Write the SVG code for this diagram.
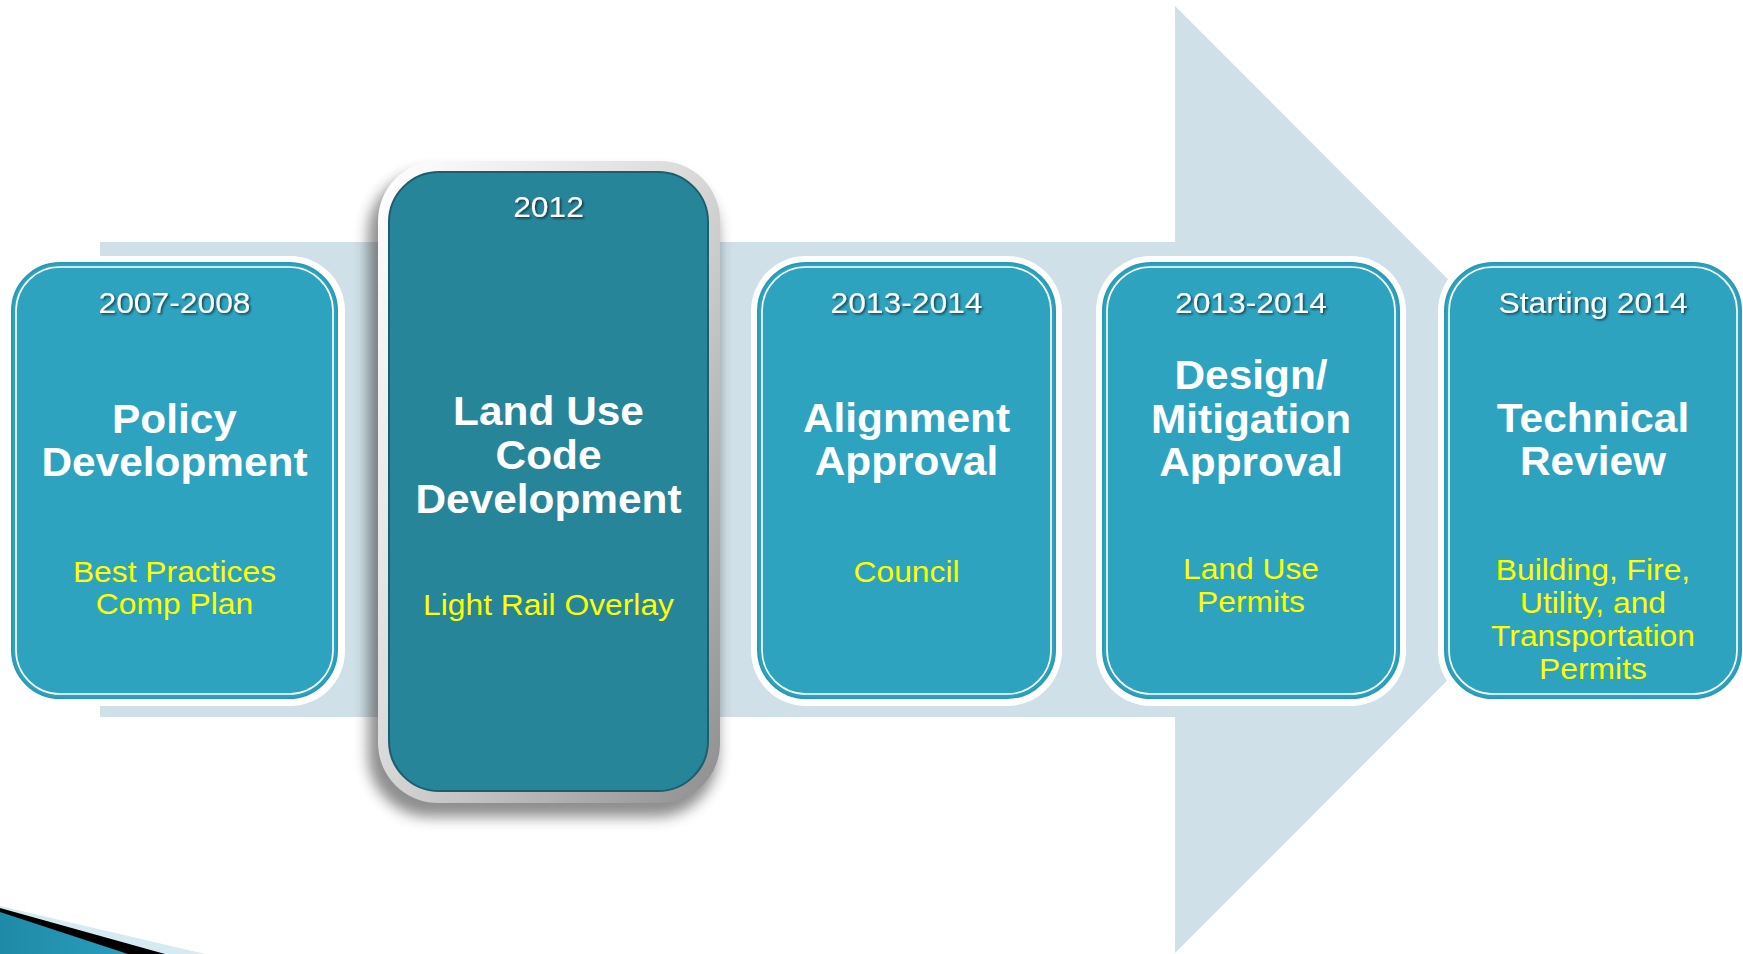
<svg xmlns="http://www.w3.org/2000/svg" width="1743" height="954" viewBox="0 0 1743 954">
<defs>
<style>
.yr{font-family:"Liberation Sans",Arial,sans-serif;font-size:30px;fill:#ffffff;text-anchor:middle;filter:url(#ts)}
.tt{font-family:"Liberation Sans",Arial,sans-serif;font-weight:bold;font-size:40px;fill:#ffffff;text-anchor:middle}
.sb{font-family:"Liberation Sans",Arial,sans-serif;font-size:30px;fill:#ffff00;text-anchor:middle}
.halo{fill:#ffffff}
.card{fill:#2ea3c0;stroke:#2a9ab6;stroke-width:2}
.inner{fill:none;stroke:#ffffff;stroke-width:1.6}
</style>
<filter id="ts" x="-10%" y="-30%" width="120%" height="160%">
<feDropShadow dx="1.5" dy="1.5" stdDeviation="1" flood-color="#000000" flood-opacity="0.6"/>
</filter>
<filter id="blur" x="-20%" y="-20%" width="140%" height="140%">
<feGaussianBlur stdDeviation="7"/>
</filter>
<linearGradient id="bev" x1="0" y1="0" x2="1" y2="1">
<stop offset="0" stop-color="#ffffff"/>
<stop offset="0.45" stop-color="#dcdcdc"/>
<stop offset="1" stop-color="#8e8e8e"/>
</linearGradient>
<linearGradient id="stripe" x1="0" y1="0" x2="1" y2="0">
<stop offset="0" stop-color="#1f8aa8"/>
<stop offset="1" stop-color="#2a9ebb"/>
</linearGradient>
</defs>

<g id="connectors">
<polygon id="arrow" points="100,242 1175,242 1175,6 1648,479.5 1175,953 1175,717 100,717" fill="#cfe0e8"/>
</g>

<g id="corner-decoration">
<polygon points="0,906 205,954 0,954" fill="#d6eaf2"/>
<polygon points="0,908 165,954 0,954" fill="#000000"/>
<polygon points="0,912 128,954 0,954" fill="url(#stripe)"/>
</g>

<g id="node-policy">
<rect class="halo" x="4" y="256" width="341" height="450" rx="55"/>
<rect class="card" x="12" y="263" width="325" height="435" rx="48"/>
<rect class="inner" x="16" y="267" width="317" height="427" rx="44"/>
<g transform="translate(174.5 0) scale(1.06 1)">
<text class="yr" x="0" y="313">2007-2008</text>
<text class="tt" x="0" y="433">Policy</text>
<text class="tt" x="0" y="476">Development</text>
<text class="sb" x="0" y="582">Best Practices</text>
<text class="sb" x="0" y="614">Comp Plan</text>
</g>
</g>

<g id="node-landuse">
<rect x="368" y="172" width="350" height="645" rx="62" fill="#333333" opacity="0.55" filter="url(#blur)"/>
<rect x="378" y="161" width="342" height="642" rx="60" fill="url(#bev)"/>
<rect x="389" y="172" width="319" height="619" rx="50" fill="#27859a" stroke="#1b5e6e" stroke-width="2"/>
<g transform="translate(548.5 0) scale(1.06 1)">
<text class="yr" x="0" y="217">2012</text>
<text class="tt" x="0" y="425">Land Use</text>
<text class="tt" x="0" y="469">Code</text>
<text class="tt" x="0" y="513">Development</text>
<text class="sb" x="0" y="615">Light Rail Overlay</text>
</g>
</g>

<g id="node-alignment">
<rect class="halo" x="751" y="256" width="311" height="450" rx="55"/>
<rect class="card" x="758" y="263" width="297" height="435" rx="48"/>
<rect class="inner" x="762" y="267" width="289" height="427" rx="44"/>
<g transform="translate(906.5 0) scale(1.06 1)">
<text class="yr" x="0" y="313">2013-2014</text>
<text class="tt" x="0" y="432">Alignment</text>
<text class="tt" x="0" y="475">Approval</text>
<text class="sb" x="0" y="582">Council</text>
</g>
</g>

<g id="node-design">
<rect class="halo" x="1096" y="256" width="310" height="450" rx="55"/>
<rect class="card" x="1103" y="263" width="296" height="435" rx="48"/>
<rect class="inner" x="1107" y="267" width="288" height="427" rx="44"/>
<g transform="translate(1251 0) scale(1.06 1)">
<text class="yr" x="0" y="313">2013-2014</text>
<text class="tt" x="0" y="389">Design/</text>
<text class="tt" x="0" y="433">Mitigation</text>
<text class="tt" x="0" y="476">Approval</text>
<text class="sb" x="0" y="579">Land Use</text>
<text class="sb" x="0" y="612">Permits</text>
</g>
</g>

<g id="node-technical">
<rect class="halo" x="1438" y="256" width="312" height="450" rx="55"/>
<rect class="card" x="1445" y="263" width="296" height="435" rx="48"/>
<rect class="inner" x="1449" y="267" width="288" height="427" rx="44"/>
<g transform="translate(1593 0) scale(1.06 1)">
<text class="yr" x="0" y="313">Starting 2014</text>
<text class="tt" x="0" y="432">Technical</text>
<text class="tt" x="0" y="475">Review</text>
<text class="sb" x="0" y="580">Building, Fire,</text>
<text class="sb" x="0" y="613">Utility, and</text>
<text class="sb" x="0" y="646">Transportation</text>
<text class="sb" x="0" y="679">Permits</text>
</g>
</g>
</svg>
